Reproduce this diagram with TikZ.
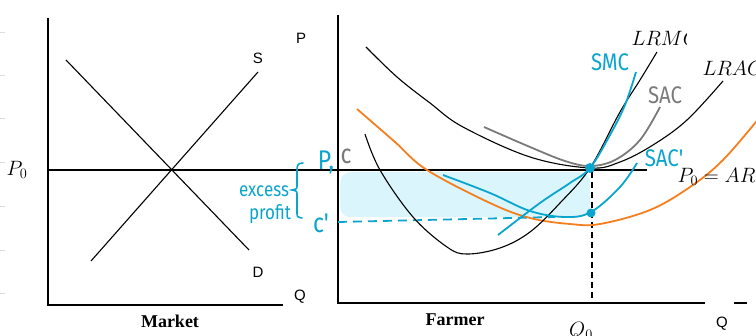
\documentclass[tikz,border=0pt]{standalone}
\usepackage{fontspec}
\setmainfont{Liberation Serif}
\newfontfamily\labfont{Liberation Sans}
\newfontfamily\handfont{Fira Sans}
\definecolor{cy}{HTML}{0AA5CC}
\definecolor{og}{HTML}{F57F1E}
\definecolor{gy}{HTML}{7A7A7A}
\definecolor{fillc}{HTML}{DAF5FC}
\definecolor{tickc}{HTML}{DDDDDD}
\begin{document}
\begin{tikzpicture}[x=1pt,y=-1pt,
  axis/.style={line width=1.5pt,black},
  curve/.style={line width=1.1pt,black},
  colcurve/.style={line width=1.8pt},
  tickline/.style={line width=0.8pt,tickc},
  sanslab/.style={font=\labfont\fontsize{15}{17}\selectfont},
  boldlab/.style={font=\bfseries\fontsize{18}{20}\selectfont},
  mathlab/.style={font=\fontsize{22}{24}\selectfont},
  hand/.style={font=\handfont\fontsize{24}{26}\selectfont,xscale=0.85},
  handbig/.style={font=\handfont\fontsize{27}{29}\selectfont,xscale=0.85},
  handsmall/.style={font=\handfont\fontsize{20}{22}\selectfont,xscale=0.85,cy},
  dot/.style={circle,fill=cy,inner sep=0pt,minimum size=10pt}
]
\useasboundingbox (0,0) rectangle (756,336);
\clip (0,0) rectangle (756,336);

% faint ticks at left edge
\foreach \yy in {32,75,118,162,206,250,293} \draw[tickline] (0,\yy) -- (5,\yy);

% shaded excess profit region
\node[fill=fillc,rounded corners=10pt,minimum width=250pt,minimum height=45pt,inner sep=0pt,anchor=north west] (profit) at (340,172) {};

% Market panel
\coordinate (mtop) at (48,18);
\coordinate (mo) at (48,305);
\coordinate (mq) at (283,305);
\draw[axis] (mtop) -- (mo) -- (mq);
\coordinate (d1) at (66,60);
\coordinate (d2) at (249,250);
\coordinate (s1) at (91,261);
\coordinate (s2) at (258,72);
\draw[curve] (d1) -- (d2);
\draw[curve] (s1) -- (s2);

% price line
\coordinate (p0a) at (48,170);
\coordinate (p0b) at (647,170);
\draw[axis] (p0a) -- (p0b);

% Farmer panel axes
\coordinate (ftop) at (338,15);
\coordinate (fo) at (338,303);
\coordinate (fq) at (705,303);
\coordinate (fqa) at (734,303);
\coordinate (fqb) at (747,303);
\draw[axis] (ftop) -- (fo) -- (fq);
\draw[axis] (fqa) -- (fqb);

% Q0 dashed drop
\coordinate (q0top) at (592,172);
\coordinate (q0bot) at (592,303);
\draw[line width=1.3pt,dash pattern=on 6pt off 4pt] (q0top) -- (q0bot);

% c' dashed line
\coordinate (ca) at (338,222);
\coordinate (cb) at (555,217);
\draw[cy,line width=1.8pt,dash pattern=on 9pt off 6pt] (ca) -- (cb);

% orange curve
\draw[og,colcurve] plot[smooth,tension=0.6] coordinates {(357,109) (395,142) (427,170) (490,203) (530,218) (570,224) (600,224) (650,210) (690,187) (723,160) (760,117)};

% LRAC
\draw[curve] plot[smooth,tension=0.6] coordinates {(366,47) (397,77) (430,103) (463,127) (530,157) (590,168) (620,162) (653,145) (687,120) (723,81)};

% LRMC
\draw[curve] plot[smooth,tension=0.6] coordinates {(365,134) (380,170) (413,217) (447,247) (467,254) (500,248) (530,232) (560,203) (590,168) (620,112) (640,80) (657,52)};

% SAC (grey)
\draw[gy,colcurve] plot[smooth,tension=0.6] coordinates {(484,127) (530,147) (565,161) (590,166) (615,160) (640,140) (660,107)};

% SMC (cyan)
\draw[cy,colcurve] plot[smooth,tension=0.6] coordinates {(498,235) (540,203) (570,183) (590,168) (610,135) (625,105) (636,72)};

% SAC' (cyan)
\draw[cy,colcurve] plot[smooth,tension=0.6] coordinates {(443,175) (490,193) (530,211) (565,217) (591,212) (620,187) (637,163)};

% dots
\node[dot] (e0) at (590,168) {};
\node[dot,minimum size=9pt] (e1) at (591,213) {};

% brace
\draw[cy,line width=1.6pt,line cap=round] (303,163) .. controls (297,163) and (297,166) .. (297,172) -- (297,185) .. controls (297,189) .. (292,190) .. controls (297,191) .. (297,195) -- (297,212) .. controls (297,217) .. (302,218);

% labels
\node[mathlab] (lp0) at (17,170) {$P_0$};
\node[sanslab] (lp) at (301,38) {P};
\node[sanslab] (ls) at (258,58) {S};
\node[sanslab] (ld) at (258,272) {D};
\node[sanslab] (lqm) at (300,297) {Q};
\node[sanslab] (lqf) at (722,324) {Q};
\node[boldlab] (lmarket) at (170,321) {Market};
\node[boldlab] (lfarmer) at (455,320) {Farmer};
\node[mathlab] (lq0) at (581,331) {$Q_0$};
\begin{scope}
\clip (600,20) rectangle (686,55);
\node[mathlab,anchor=west] (llrmc) at (628,38) {$LRMC$};
\end{scope}
\node[mathlab,anchor=west] (llrac) at (699,68) {$LRAC$};
\node[mathlab,anchor=west] (lar) at (674,177) {$P_0 = AR$};
\node[hand,cy] (lsmc) at (610,62) {SMC};
\node[hand,gy] (lsac) at (665,95) {SAC};
\node[hand,cy] (lsacp) at (664,158) {SAC'};
\node[handsmall] (lexcess) at (264,191) {excess};
\node[handsmall] (lprofit) at (270,214) {profit};
\node[handbig,cy] (lpc) at (326,162) {P,};
\node[handbig,gy] (lc) at (346,156) {c};
\node[handbig,cy] (lcp) at (321,223) {c'};
\end{tikzpicture}
\end{document}
